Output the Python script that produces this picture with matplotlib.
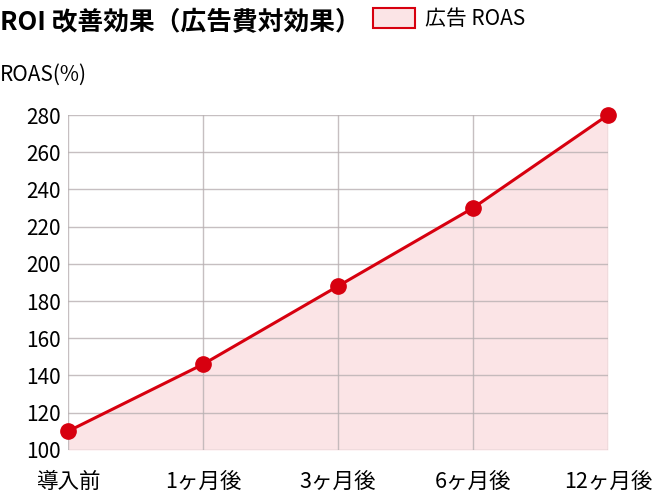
import matplotlib
matplotlib.use("Agg")
import matplotlib.pyplot as plt
from matplotlib.patches import Rectangle

plt.rcParams['font.family'] = ['Noto Sans CJK JP', 'DejaVu Sans']

# data
periods = ["導入前", "1ヶ月後", "3ヶ月後", "6ヶ月後", "12ヶ月後"]
roas = [110, 146, 188, 230, 280]
y_ticks = [100, 120, 140, 160, 180, 200, 220, 240, 260, 280]

red = "#d7000f"
pink = "#fbe4e6"
grid_col = "#b8b0b2"

fig = plt.figure(figsize=(6.6, 4.96), dpi=100)
ax = fig.add_axes([0.103, 0.093, 0.818, 0.675])

x = list(range(len(periods)))
ax.fill_between(x, roas, y_ticks[0], color=pink, zorder=1, linewidth=0)
ax.plot(x, roas, color=red, linewidth=2.2, marker="o", markersize=11,
        zorder=4, clip_on=False)

ax.set_xlim(0, len(periods) - 1)
ax.set_ylim(y_ticks[0], y_ticks[-1])
ax.set_xticks(x)
ax.set_xticklabels(periods, fontsize=15.5)
ax.set_yticks(y_ticks)
ax.set_yticklabels([str(v) for v in y_ticks], fontsize=15)
ax.tick_params(axis="x", length=0, pad=15)
ax.tick_params(axis="y", length=0, pad=30)
for lab in ax.get_yticklabels():
    lab.set_horizontalalignment("left")

ax.grid(True, color=grid_col, linewidth=1, alpha=0.8, zorder=2)
ax.set_axisbelow(False)
for s in ax.spines.values():
    s.set_visible(False)

# title, axis name and legend
fig.text(0.0, 0.955, "ROI 改善効果（広告費対効果）", fontsize=18.5,
         fontweight="bold", va="center", ha="left")
fig.text(0.0, 0.85, "ROAS(%)", fontsize=15, va="center", ha="left")
fig.patches.append(Rectangle((373 / 660, 1 - 28 / 496), 42 / 660, 20 / 496,
                             transform=fig.transFigure, facecolor=pink,
                             edgecolor=red, linewidth=1.5))
fig.text(425 / 660, 0.961, "広告 ROAS", fontsize=15, va="center", ha="left")

fig.savefig("out.png", dpi=100)
